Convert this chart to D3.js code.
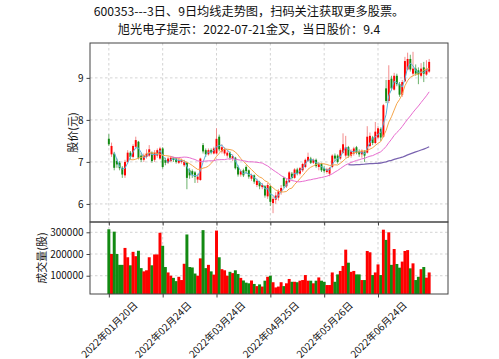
<!DOCTYPE html>
<html><head><meta charset="utf-8">
<script src="https://cdn.jsdelivr.net/npm/d3@7"></script>
<style>body{margin:0;background:#fff;} svg{display:block;font-family:"Noto Sans CJK SC","Noto Sans",sans-serif;}</style>
</head><body><svg id="c" width="499" height="359"></svg>
<script>
const titleLines = ["600353---3日、9日均线走势图，扫码关注获取更多股票。", "旭光电子提示：2022-07-21金叉，当日股价：9.4"];
const opens = [7.55,7.18,7.20,7.02,6.98,6.86,6.68,7.00,7.22,7.12,
7.36,7.48,7.15,7.05,7.12,7.15,7.22,7.05,7.15,7.08,
7.32,7.05,6.98,7.02,7.10,7.08,6.98,7.00,6.92,6.98,
6.80,6.78,6.75,6.58,6.57,7.40,7.28,7.18,7.28,7.20,
7.20,7.60,7.25,7.20,7.15,7.22,7.08,7.10,6.88,6.70,
6.80,6.88,6.80,6.60,6.68,6.45,6.52,6.40,6.42,6.18,
6.42,6.02,6.10,6.15,6.28,6.62,6.42,6.52,6.72,6.62,
6.82,6.72,6.80,6.88,7.02,7.08,6.98,7.05,6.88,6.95,
6.85,6.76,6.72,6.88,7.15,7.15,7.08,7.22,7.15,7.35,
7.15,7.20,7.35,7.25,7.18,7.25,7.22,7.38,7.58,7.45,
7.58,7.78,7.60,8.75,8.45,8.98,8.72,9.05,8.85,8.60,
8.92,9.20,9.45,9.10,9.22,9.18,9.05,9.25,9.08,9.15];
const highs = [7.66,7.46,7.24,7.08,7.02,6.90,7.05,7.28,7.26,7.42,
7.60,7.50,7.22,7.20,7.30,7.40,7.25,7.28,7.32,7.36,
7.35,7.10,7.12,7.14,7.12,7.10,7.08,7.08,7.05,7.00,
6.85,6.82,6.78,6.72,7.10,7.45,7.32,7.32,7.32,7.36,
7.80,7.65,7.42,7.35,7.28,7.25,7.18,7.12,6.92,6.82,
6.84,6.92,6.82,6.72,6.70,6.60,6.55,6.50,6.45,6.50,
6.45,6.18,6.28,6.35,6.45,6.65,6.60,6.78,6.76,6.85,
6.86,6.88,6.98,7.08,7.22,7.12,7.08,7.08,7.00,6.98,
6.90,6.86,6.88,7.18,7.20,7.18,7.32,7.68,7.62,7.38,
7.30,7.36,7.38,7.30,7.30,7.28,7.85,7.70,7.62,7.95,
7.85,7.82,8.38,8.95,9.30,9.05,9.12,9.10,8.90,8.95,
9.50,9.60,9.55,9.62,9.32,9.25,9.35,9.38,9.42,9.45];
const lows = [7.38,7.12,6.80,6.86,6.80,6.62,6.62,6.96,7.05,7.08,
7.30,7.06,7.00,7.00,7.08,7.12,6.98,7.00,7.10,7.05,
6.84,6.92,6.95,7.00,7.00,6.96,6.95,6.96,6.88,6.35,
6.60,6.62,6.50,6.50,6.55,7.20,7.12,7.15,7.18,7.18,
7.18,7.25,7.20,7.15,7.10,7.05,7.02,6.82,6.65,6.65,
6.64,6.72,6.60,6.55,6.48,6.40,6.35,6.35,6.15,6.12,
5.95,5.78,6.00,6.08,6.22,6.38,6.38,6.50,6.58,6.60,
6.68,6.68,6.76,6.85,7.00,6.95,6.95,6.86,6.80,6.76,
6.74,6.72,6.66,6.85,7.02,6.96,7.05,7.20,7.10,7.10,
7.10,7.15,7.18,7.12,7.10,7.00,7.20,7.35,7.40,7.42,
7.55,7.50,7.58,8.40,8.40,8.70,8.70,8.80,8.55,8.55,
8.90,9.18,9.15,9.05,9.05,8.85,9.02,8.90,9.05,9.12];
const closes = [7.42,7.38,6.86,6.94,6.85,6.70,7.00,7.22,7.12,7.38,
7.52,7.10,7.05,7.15,7.20,7.30,7.02,7.22,7.28,7.32,
6.88,6.98,7.08,7.10,7.05,7.00,7.05,7.04,7.00,6.62,
6.68,6.70,6.65,6.65,7.08,7.25,7.18,7.28,7.22,7.32,
7.55,7.30,7.35,7.30,7.22,7.10,7.14,6.85,6.70,6.78,
6.68,6.78,6.65,6.68,6.53,6.55,6.42,6.45,6.20,6.45,
6.05,6.12,6.20,6.30,6.38,6.42,6.55,6.75,6.62,6.82,
6.72,6.85,6.95,7.05,7.12,6.98,7.05,6.90,6.95,6.80,
6.78,6.82,6.85,7.15,7.08,7.00,7.28,7.42,7.35,7.15,
7.25,7.32,7.22,7.18,7.25,7.15,7.60,7.62,7.45,7.72,
7.80,7.58,8.35,8.45,8.95,8.75,9.05,8.85,8.60,8.90,
9.40,9.45,9.20,9.22,9.10,9.08,9.22,9.10,9.20,9.38];
const volumes = [314000,200000,303000,200000,150000,150000,228000,185000,148000,210000,
190000,215000,135000,120000,125000,185000,148000,198000,198000,298000,
238000,140000,115000,100000,90000,75000,95000,80000,155000,290000,
140000,138000,110000,100000,180000,310000,135000,150000,120000,105000,
308000,185000,130000,125000,100000,118000,112000,125000,108000,90000,
78000,68000,65000,78000,62000,52000,60000,50000,77000,95000,
100000,70000,46000,50000,70000,52000,65000,85000,72000,72000,
70000,77000,80000,103000,77000,77000,65000,77000,92000,77000,
72000,57000,57000,115000,72000,106000,122000,145000,220000,160000,
118000,122000,106000,106000,80000,80000,214000,208000,103000,115000,
152000,103000,312000,265000,300000,150000,223000,154000,137000,165000,
214000,218000,134000,157000,80000,95000,130000,140000,91000,115000];
const tickIndex = [0,20,40,60,80,100];
const tickLabels = ["2022年01月20日","2022年02月24日","2022年03月24日","2022年04月25日","2022年05月26日","2022年06月24日"];
const priceTicks = [6,7,8,9];
const volumeTicks = [100000,200000,300000];
const maWindows = [3,9,24,90];
const maColors = ["#5cb3dc","#f5a54a","#e86ccf","#7a64b0"];
const upColor = "#ff0000", downColor = "#128a12";

const svg = d3.select("#c");
const L = 90, R = 448, T1 = 43, B1 = 222, T2 = 222, B2 = 294;
const n = closes.length;
const x = d3.scaleLinear().domain([-7, 126]).range([L, R]);
const yP = d3.scaleLinear().domain([5.57, 9.83]).range([B1, T1]);
const yV = d3.scaleLinear().domain([15700, 347500]).range([B2, T2]);
const step = x(1) - x(0);

// titles
svg.selectAll("text.title").data(titleLines).join("text")
  .attr("class","title")
  .attr("x", 249).attr("y", (d,i)=> 16 + i*18)
  .attr("text-anchor","middle").attr("font-size", 12.2).attr("fill","#111").text(d=>d);

// clip paths
svg.append("clipPath").attr("id","cp1").append("rect").attr("x",L).attr("y",T1).attr("width",R-L).attr("height",B1-T1);
svg.append("clipPath").attr("id","cp2").append("rect").attr("x",L).attr("y",T2).attr("width",R-L).attr("height",B2-T2);

const grid = svg.append("g").attr("stroke","#c8c8c8").attr("stroke-dasharray","2.5,2.5").attr("stroke-width",0.8);
tickIndex.forEach(i=>{
  grid.append("line").attr("x1",x(i)).attr("x2",x(i)).attr("y1",T1).attr("y2",B1);
  grid.append("line").attr("x1",x(i)).attr("x2",x(i)).attr("y1",T2).attr("y2",B2);
});
priceTicks.forEach(p=> grid.append("line").attr("x1",L).attr("x2",R).attr("y1",yP(p)).attr("y2",yP(p)));
volumeTicks.forEach(v=> grid.append("line").attr("x1",L).attr("x2",R).attr("y1",yV(v)).attr("y2",yV(v)));

const idx = d3.range(n);
// candles
const gC = svg.append("g").attr("clip-path","url(#cp1)");
gC.selectAll("line.wick").data(idx).join("line")
  .attr("x1", i=>x(i)).attr("x2", i=>x(i)).attr("y1", i=>yP(highs[i])).attr("y2", i=>yP(lows[i]))
  .attr("stroke", i=> closes[i]>=opens[i] ? "#f08080" : "#5aa85a").attr("stroke-width", 0.9);
gC.selectAll("rect.body").data(idx).join("rect")
  .attr("x", i=>x(i)-step*0.36).attr("width", step*0.72)
  .attr("y", i=>yP(Math.max(opens[i],closes[i])))
  .attr("height", i=>Math.max(0.8, Math.abs(yP(opens[i])-yP(closes[i]))))
  .attr("fill", i=> closes[i]>=opens[i] ? upColor : downColor);

// moving averages
maWindows.forEach((w,k)=>{
  const vals = closes.map((c,i)=> i < w-1 ? null : d3.mean(closes.slice(i-w+1, i+1)));
  const line = d3.line().defined(d=>d[1]!=null).x(d=>x(d[0])).y(d=>yP(d[1]));
  gC.append("path").datum(vals.map((v,i)=>[i,v])).attr("d", line)
    .attr("fill","none").attr("stroke", maColors[k]).attr("stroke-width", k==3?1.3:1);
});

// volume bars
const gV = svg.append("g").attr("clip-path","url(#cp2)");
gV.selectAll("rect").data(idx).join("rect")
  .attr("x", i=>x(i)-step*0.55).attr("width", step*1.1)
  .attr("y", i=>yV(volumes[i])).attr("height", i=>B2 - yV(volumes[i]))
  .attr("fill", i=> closes[i]>=opens[i] ? upColor : downColor);

// frames
[[T1,B1],[T2,B2]].forEach(([t,b])=>{
  svg.append("rect").attr("x",L).attr("y",t).attr("width",R-L).attr("height",b-t)
    .attr("fill","none").attr("stroke","#444").attr("stroke-width",1);
});

// y axes
const axP = svg.append("g").attr("transform",`translate(${L},0)`)
  .call(d3.axisLeft(yP).tickValues(priceTicks).tickSize(3.5).tickPadding(3).tickFormat(d3.format("d")));
const axV = svg.append("g").attr("transform",`translate(${L},0)`)
  .call(d3.axisLeft(yV).tickValues(volumeTicks).tickSize(3.5).tickPadding(3).tickFormat(d3.format("d")));
[axP,axV].forEach(a=>{
  a.select(".domain").remove();
  a.selectAll("text").attr("font-size",10).attr("fill","#111").attr("font-family",'"Noto Sans CJK SC",sans-serif');
  a.selectAll("line").attr("stroke","#444");
});

// x axis
const axX = svg.append("g").attr("transform",`translate(0,${B2})`)
  .call(d3.axisBottom(x).tickValues(tickIndex).tickSize(3.5).tickFormat(""));
axX.select(".domain").remove();
axX.selectAll("line").attr("stroke","#444");
svg.append("g").attr("transform",`translate(0,${B1})`)
  .call(d3.axisBottom(x).tickValues(tickIndex).tickSize(3.5).tickFormat(""))
  .call(g=>{g.select(".domain").remove(); g.selectAll("line").attr("stroke","#444");});

const lab = svg.append("g");
tickIndex.forEach((ti,k)=>{
  const cx = x(ti), cy = B2 + 35;
  lab.append("text").attr("transform",`translate(${cx},${cy}) rotate(-45)`)
    .attr("text-anchor","middle").attr("dominant-baseline","central")
    .attr("font-size",10).attr("fill","#111").text(tickLabels[k]);
});

// axis labels
svg.append("text").attr("transform",`translate(72,${(T1+B1)/2}) rotate(-90)`)
  .attr("text-anchor","middle").attr("dominant-baseline","central").attr("font-size",11).attr("fill","#111").text("股价(元)");
svg.append("text").attr("transform",`translate(41,${(T2+B2)/2}) rotate(-90)`)
  .attr("text-anchor","middle").attr("dominant-baseline","central").attr("font-size",11).attr("fill","#111").text("成交量(股)");
</script></body></html>
